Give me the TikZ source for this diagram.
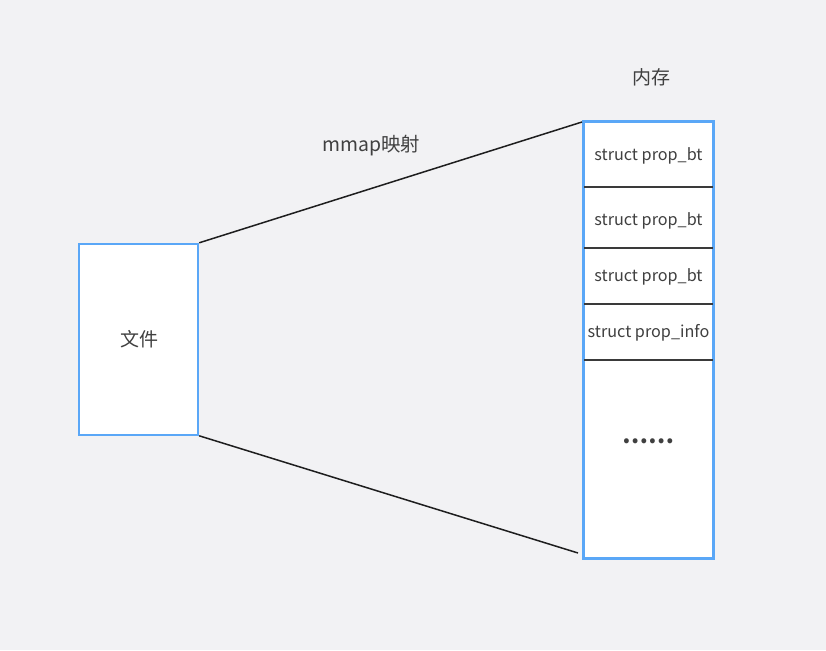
\documentclass[tikz,border=0pt]{standalone}
\usepackage{fontspec}
\setmainfont{Noto Sans CJK SC}
\begin{document}
\begin{tikzpicture}[x=1pt,y=-1pt,
  box/.style={draw=boxblue,line width=2pt,fill=white},
  lbl/.style={text=txtgray,font=\fontsize{19}{21}\selectfont},
  cell/.style={text=txtgray,font=\fontsize{16.2}{18}\selectfont},
  divider/.style={draw=divgray,line width=2pt},
  conn/.style={draw=lineblack,line width=1.5pt}]
\definecolor{bg}{HTML}{F2F2F4}
\definecolor{boxblue}{HTML}{5AA7F7}
\definecolor{txtgray}{HTML}{404040}
\definecolor{divgray}{HTML}{3A3A3A}
\definecolor{lineblack}{HTML}{1E1E1E}
\fill[bg] (0,0) rectangle (826,650);
\useasboundingbox (0,0) rectangle (826,650);
% file box
\node[box,minimum width=119pt,minimum height=191pt,inner sep=0pt] (file) at (138.7,339.3) {};
\node[lbl] (filetxt) at (139,339) {文件};
% memory column
\node[box,minimum width=129pt,minimum height=436pt,inner sep=0pt] (mem) at (648.8,339.5) {};
\coordinate (d1l) at (584.3,187); \coordinate (d1r) at (713.3,187);
\coordinate (d2l) at (584.3,248.3); \coordinate (d2r) at (713.3,248.3);
\coordinate (d3l) at (584.3,304.3); \coordinate (d3r) at (713.3,304.3);
\coordinate (d4l) at (584.3,360); \coordinate (d4r) at (713.3,360);
\draw[divider] (d1l) -- (d1r);
\draw[divider] (d2l) -- (d2r);
\draw[divider] (d3l) -- (d3r);
\draw[divider] (d4l) -- (d4r);
\draw[draw=boxblue,line width=2pt] (mem.north west) rectangle (mem.south east);
\node[cell] (c1) at (648.5,155.5) {struct prop\_bt};
\node[cell] (c2) at (648.5,221) {struct prop\_bt};
\node[cell] (c3) at (648.5,277) {struct prop\_bt};
\node[cell] (c4) at (648.5,332.5) {struct prop\_info};
\node[text=txtgray,font=\fontsize{23}{25}\selectfont\bfseries] (dots) at (648,441) {……};
\node[lbl] (memtitle) at (651,77) {内存};
\node[lbl,font=\fontsize{19.4}{21}\selectfont] (mmaptxt) at (371,146) {mmap映射};
% connectors
\coordinate (t1) at (582,122);
\coordinate (t2) at (578,553);
\draw[conn] (file.north east) -- (t1);
\draw[conn] (file.south east) -- (t2);
\end{tikzpicture}
\end{document}
